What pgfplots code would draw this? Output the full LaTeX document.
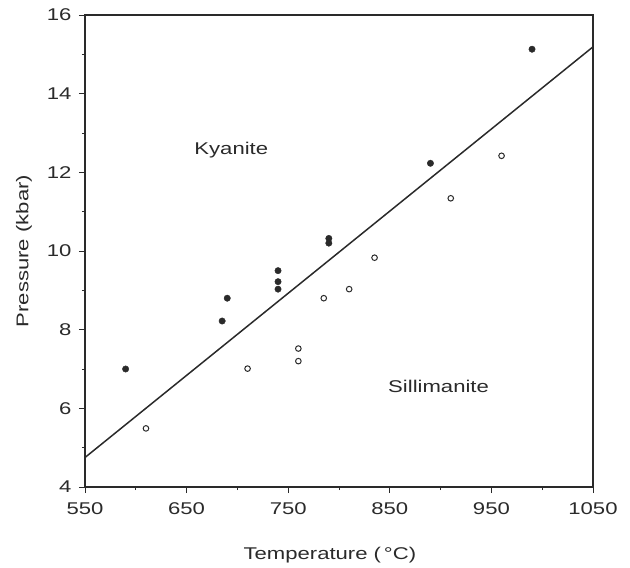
\documentclass[border=0pt]{standalone}
\usepackage{pgfplots}
\pgfplotsset{compat=1.18}
\usepackage{fontspec}
\setmainfont{Liberation Sans}[FakeStretch=1.3]
\usetikzlibrary{calc}
\definecolor{ink}{HTML}{2A2A2A}
\begin{document}
\begin{tikzpicture}[font=\fontsize{17bp}{20bp}\selectfont, text=ink]
\begin{axis}[
  scale only axis, width=508bp, height=472bp,
  xmin=550, xmax=1050, ymin=4, ymax=16,
  xtick={550,650,...,1050}, minor xtick={600,700,...,1000},
  ytick={4,6,...,16}, minor ytick={5,7,...,15},
  xtick pos=left, ytick pos=left,
  tick align=outside,
  major tick length=6bp, minor tick length=3bp,
  axis line style={line width=1.3bp, draw=ink},
  tick style={line width=0.9bp, draw=ink},
  /pgf/number format/assume math mode=true,
  /pgf/number format/1000 sep={},
  xticklabel style={yshift=-6bp},
  yticklabel style={xshift=-4bp},
  xlabel={Temperature (\,°C)}, ylabel={Pressure (kbar)},
  xlabel style={at={(axis description cs:0.482,-0.144)}, anchor=center},
  ylabel style={at={(axis description cs:-0.120,0.5)}, anchor=center},
  clip=false,
]
\addplot[ink, line width=1.5bp, no marks] coordinates {(550,4.75) (1050,15.19)};
\addplot[only marks, mark=*, mark size=3.2bp, ink, mark options={fill=ink}] coordinates {
 (590,7.0) (685,8.22) (690,8.8) (740,9.03) (740,9.22) (740,9.5)
 (790,10.2) (790,10.32) (890,12.23) (990,15.13)};
\addplot[only marks, mark=o, mark size=2.8bp, ink, mark options={line width=1bp}] coordinates {
 (610,5.49) (710,7.01) (760,7.2) (760,7.52) (785,8.8) (810,9.03)
 (835,9.83) (910,11.34) (960,12.42)};
\node at (axis cs:694,12.56) {Kyanite};
\node at (axis cs:898,6.55) {Sillimanite};
\end{axis}
\pgfresetboundingbox
\path[use as bounding box] ($(current axis.south west)+(-85bp,-81bp)$) rectangle ($(current axis.north east)+(37bp,15bp)$);
\end{tikzpicture}
\end{document}
